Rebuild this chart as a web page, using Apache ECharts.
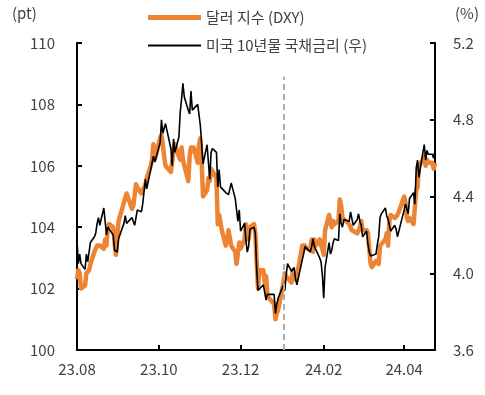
<!DOCTYPE html>
<html>
<head>
<meta charset="utf-8">
<script src="https://cdn.jsdelivr.net/npm/echarts@6/dist/echarts.min.js"></script>
<style>
html,body{margin:0;padding:0;background:#fff;}
#chart{width:485px;height:395px;}
</style>
</head>
<body>
<div id="chart"></div>
<script>
// ---- data ----
const dates = [
'2023-08-01','2023-08-02','2023-08-03','2023-08-04','2023-08-07','2023-08-08','2023-08-09','2023-08-10','2023-08-11',
'2023-08-14','2023-08-15','2023-08-16','2023-08-17','2023-08-18','2023-08-21','2023-08-22','2023-08-23','2023-08-24','2023-08-25',
'2023-08-28','2023-08-29','2023-08-30','2023-08-31',
'2023-09-01','2023-09-05','2023-09-06','2023-09-07','2023-09-08','2023-09-11','2023-09-12','2023-09-13','2023-09-14','2023-09-15',
'2023-09-18','2023-09-19','2023-09-20','2023-09-21','2023-09-22','2023-09-25','2023-09-26','2023-09-27','2023-09-28','2023-09-29',
'2023-10-02','2023-10-03','2023-10-04','2023-10-05','2023-10-06','2023-10-10','2023-10-11','2023-10-12','2023-10-13',
'2023-10-16','2023-10-17','2023-10-18','2023-10-19','2023-10-20','2023-10-23','2023-10-24','2023-10-25','2023-10-26','2023-10-27',
'2023-10-30','2023-10-31',
'2023-11-01','2023-11-02','2023-11-03','2023-11-06','2023-11-07','2023-11-08','2023-11-09','2023-11-10',
'2023-11-13','2023-11-14','2023-11-15','2023-11-16','2023-11-17','2023-11-20','2023-11-21','2023-11-22','2023-11-24',
'2023-11-27','2023-11-28','2023-11-29','2023-11-30',
'2023-12-01','2023-12-04','2023-12-05','2023-12-06','2023-12-07','2023-12-08','2023-12-11','2023-12-12','2023-12-13','2023-12-14','2023-12-15',
'2023-12-18','2023-12-19','2023-12-20','2023-12-21','2023-12-22','2023-12-26','2023-12-27','2023-12-28','2023-12-29',
'2024-01-02','2024-01-03','2024-01-04','2024-01-05','2024-01-08','2024-01-09','2024-01-10','2024-01-11','2024-01-12',
'2024-01-16','2024-01-17','2024-01-18','2024-01-19','2024-01-22','2024-01-23','2024-01-24','2024-01-25','2024-01-26',
'2024-01-29','2024-01-30','2024-01-31',
'2024-02-01','2024-02-02','2024-02-05','2024-02-06','2024-02-07','2024-02-08','2024-02-09','2024-02-12','2024-02-13','2024-02-14',
'2024-02-15','2024-02-16','2024-02-20','2024-02-21','2024-02-22','2024-02-23','2024-02-26','2024-02-27','2024-02-28','2024-02-29',
'2024-03-01','2024-03-04','2024-03-05','2024-03-06','2024-03-07','2024-03-08','2024-03-11','2024-03-12','2024-03-13','2024-03-14',
'2024-03-15','2024-03-18','2024-03-19','2024-03-20','2024-03-21','2024-03-22','2024-03-25','2024-03-26','2024-03-27','2024-03-28',
'2024-04-01','2024-04-02','2024-04-03','2024-04-04','2024-04-05','2024-04-08','2024-04-09','2024-04-10','2024-04-11','2024-04-12',
'2024-04-15','2024-04-16','2024-04-17','2024-04-18','2024-04-19','2024-04-22','2024-04-23','2024-04-24'
];

const dxy = [
102.3,102.6,102.5,102.0,102.1,102.5,102.5,102.6,102.8,
103.2,103.2,103.4,103.4,103.4,103.3,103.6,103.4,104.0,104.1,
104.0,103.5,103.1,103.6,
104.2,104.8,104.8,105.1,105.1,104.6,104.7,104.7,105.4,105.3,
105.1,105.2,105.3,105.4,105.6,106.0,106.2,106.7,106.2,106.2,
106.9,107.0,106.7,106.3,106.0,105.8,105.8,106.5,106.7,
106.3,106.2,106.6,106.2,106.2,105.5,106.3,106.6,106.6,106.6,
106.1,106.7,
106.9,106.1,105.0,105.2,105.6,105.5,105.9,105.9,
105.6,104.1,104.4,104.4,103.9,103.4,103.6,103.9,103.4,
103.2,102.8,102.8,103.5,
103.3,103.6,104.1,104.1,103.6,104.0,104.1,103.8,102.9,102.0,102.6,
102.6,102.2,102.4,101.8,101.7,101.5,101.0,101.2,101.3,
102.2,102.5,102.4,102.4,102.2,102.6,102.4,102.3,102.4,
103.4,103.4,103.4,103.3,103.3,103.6,103.2,103.6,103.4,
103.6,103.4,103.3,
103.1,103.9,104.4,104.2,104.0,104.2,104.1,104.2,104.9,104.7,
104.3,104.3,104.1,104.0,103.9,103.9,103.8,103.8,104.0,104.2,
103.9,103.9,103.8,103.3,102.8,102.7,102.9,102.9,102.8,103.4,
103.4,103.6,103.8,103.4,104.2,104.4,104.3,104.3,104.4,104.5,
105.0,104.8,104.3,104.2,104.3,104.1,104.1,105.2,105.3,106.0,
106.2,106.3,106.0,106.2,106.1,106.1,105.9,106.1
];

const ust10y = [
4.17,4.05,4.10,4.05,4.02,4.10,4.06,4.11,4.16,
4.19,4.21,4.26,4.29,4.25,4.34,4.33,4.20,4.24,4.24,
4.20,4.12,4.12,4.11,
4.18,4.26,4.30,4.26,4.26,4.29,4.27,4.25,4.29,4.33,
4.32,4.36,4.35,4.49,4.44,4.54,4.55,4.61,4.58,4.57,
4.68,4.80,4.73,4.72,4.78,4.65,4.56,4.70,4.63,
4.71,4.84,4.91,4.99,4.92,4.85,4.83,4.95,4.85,4.84,
4.88,4.88,
4.77,4.67,4.57,4.67,4.58,4.49,4.63,4.65,
4.63,4.45,4.54,4.45,4.44,4.42,4.41,4.41,4.47,
4.39,4.33,4.27,4.33,
4.22,4.26,4.17,4.11,4.14,4.23,4.24,4.21,4.02,3.91,3.92,
3.94,3.93,3.86,3.89,3.90,3.89,3.79,3.84,3.87,
3.94,3.91,3.99,4.05,4.01,4.02,4.03,3.97,3.94,
4.07,4.10,4.14,4.14,4.11,4.14,4.18,4.14,4.15,
4.08,4.06,3.99,
3.87,4.03,4.16,4.10,4.12,4.16,4.18,4.17,4.31,4.26,
4.24,4.28,4.27,4.32,4.33,4.25,4.28,4.31,4.27,4.25,
4.19,4.22,4.15,4.11,4.09,4.08,4.10,4.15,4.19,4.29,
4.31,4.34,4.30,4.28,4.27,4.22,4.25,4.23,4.19,4.20,
4.33,4.36,4.35,4.31,4.39,4.42,4.36,4.55,4.59,4.50,
4.63,4.67,4.59,4.64,4.62,4.62,4.60,4.64
];

const tickDates = ['2023-08-01','2023-10-01','2023-12-01','2024-02-01','2024-04-01'];
const tickLabels = ['23.08','23.10','23.12','24.02','24.04'];
const axisStart = '2023-08-01';
const axisEnd = '2024-04-24';
const markDate = '2024-01-02';
const seriesNames = ['달러 지수 (DXY)', '미국 10년물 국채금리 (우)'];
const unitLeft = '(pt)';
const unitRight = '(%)';

// ---- chart ----
// x positions are day counts since axisStart, on a plain value axis
const DAY = 86400000;
function ts(s){ const p = s.split('-').map(Number); return Date.UTC(p[0], p[1]-1, p[2]); }
function dayNo(s){ return Math.round((ts(s) - ts(axisStart)) / DAY); }
const tickDays = tickDates.map(dayNo);
const FONT = "'Noto Sans CJK KR', 'Noto Sans', sans-serif";
const TXT = '#404040';
const ORANGE = '#EC8434';

const chart = echarts.init(document.getElementById('chart'), null, {renderer: 'canvas'});
chart.setOption({
  animation: false,
  textStyle: {fontFamily: FONT},
  grid: {left: 77, right: 50, top: 43, bottom: 45, containLabel: false},
  legend: [
    {data: [seriesNames[0]], left: 143, top: 5, icon: 'rect', itemWidth: 53, itemHeight: 5,
     textStyle: {fontSize: 15, color: TXT, fontFamily: FONT}, selectedMode: false},
    {data: [seriesNames[1]], left: 143, top: 33, icon: 'rect', itemWidth: 53, itemHeight: 2,
     textStyle: {fontSize: 15, color: TXT, fontFamily: FONT}, selectedMode: false}
  ],
  graphic: [
    {type: 'text', left: 12, top: 6, style: {text: unitLeft, fill: TXT, font: "15px " + FONT}},
    {type: 'text', left: 455, top: 6, style: {text: unitRight, fill: TXT, font: "15px " + FONT}}
  ],
  xAxis: {
    type: 'value',
    min: 0, max: dayNo(axisEnd),
    axisLine: {show: true, lineStyle: {color: '#000', width: 2}},
    axisTick: {show: true, inside: true, length: 5, customValues: tickDays, lineStyle: {color: '#000', width: 2}},
    axisLabel: {customValues: tickDays, margin: 12, fontSize: 15, color: TXT, fontFamily: FONT,
      formatter: function(v){ const i = tickDays.indexOf(v); return i >= 0 ? tickLabels[i] : ''; }},
    splitLine: {show: false}
  },
  yAxis: [
    {type: 'value', min: 100, max: 110, interval: 2, position: 'left',
     axisLine: {show: true, lineStyle: {color: '#000', width: 2}},
     axisTick: {show: true, inside: true, length: 5, lineStyle: {color: '#000', width: 2}},
     axisLabel: {margin: 22, fontSize: 15, color: TXT, fontFamily: FONT},
     splitLine: {show: false}},
    {type: 'value', min: 3.6, max: 5.2, interval: 0.4, position: 'right',
     axisLine: {show: true, lineStyle: {color: '#000', width: 2}},
     axisTick: {show: true, inside: true, length: 5, lineStyle: {color: '#000', width: 2}},
     axisLabel: {margin: 18, fontSize: 15, color: TXT, fontFamily: FONT,
       formatter: function(v){ return v.toFixed(1); }},
     splitLine: {show: false}}
  ],
  series: [
    {name: seriesNames[0], type: 'line', yAxisIndex: 0, showSymbol: false, symbol: 'none',
     data: dates.map(function(d, i){ return [dayNo(d), dxy[i]]; }),
     itemStyle: {color: ORANGE}, lineStyle: {color: ORANGE, width: 4.5, join: 'round'},
     markLine: {silent: true, symbol: 'none', label: {show: false},
       lineStyle: {color: '#AEAEAE', type: [6, 4], width: 2},
       data: [[{coord: [dayNo(markDate), 100]}, {coord: [dayNo(markDate), 108.9]}]]}},
    {name: seriesNames[1], type: 'line', yAxisIndex: 1, showSymbol: false, symbol: 'none',
     data: dates.map(function(d, i){ return [dayNo(d), ust10y[i]]; }),
     itemStyle: {color: '#000'}, lineStyle: {color: '#000', width: 1.6}}
  ]
});
</script>
</body>
</html>
